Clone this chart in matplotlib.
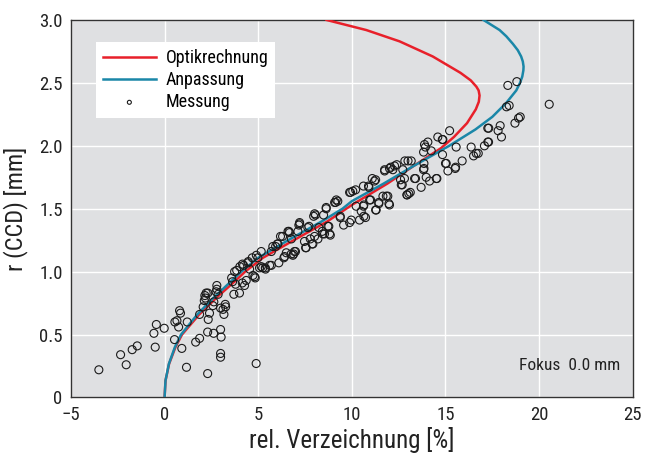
import matplotlib
matplotlib.use("Agg")
import matplotlib.pyplot as plt
from matplotlib import font_manager

# ---- data ----
# Optikrechnung curve: radius r [mm] and rel. distortion [%]
optik_r = [0.0, 0.135, 0.267, 0.40, 0.50, 0.66, 0.79, 0.93, 1.00, 1.11, 1.25, 1.40,
           1.53, 1.70, 1.84, 1.98, 2.07, 2.18, 2.29, 2.35, 2.40, 2.44, 2.47, 2.52,
           2.58, 2.71, 2.83, 2.92, 3.00]
optik_v = [0.0, 0.05, 0.24, 0.58, 0.93, 1.85, 2.75, 3.80, 4.30, 5.25, 6.90, 8.70,
           10.0, 11.9, 13.3, 14.75, 15.45, 16.15, 16.62, 16.78, 16.82, 16.77, 16.65, 16.35,
           15.80, 14.32, 12.55, 10.77, 8.65]

# Anpassung curve
fit_r = [0.0, 0.135, 0.267, 0.40, 0.50, 0.66, 0.79, 0.93, 1.00, 1.11, 1.25, 1.40,
         1.50, 1.56, 1.70, 1.84, 2.00, 2.13, 2.23, 2.34, 2.44, 2.50, 2.55, 2.60,
         2.63, 2.67, 2.71, 2.76, 2.81, 2.87, 2.92, 3.00]
fit_v = [0.0, 0.05, 0.23, 0.55, 0.88, 1.75, 2.60, 3.60, 4.10, 5.00, 6.60, 8.40,
         9.50, 10.0, 11.7, 13.3, 15.2, 16.6, 17.5, 18.24, 18.78, 18.98, 19.10, 19.16,
         19.17, 19.13, 19.04, 18.86, 18.60, 18.25, 17.89, 17.03]

# Messung (measured points)
mess_v = [-3.51, -2.35, -2.05, -1.73, -1.46, -0.57, -0.44, -0.50, -0.02, 0.53, 0.55, 0.66, 0.75,
          0.80, 0.85, 0.92, 1.17, 1.21, 1.66, 1.87, 1.87,
          2.06, 2.12, 2.15, 2.22, 2.31, 2.18, 2.30, 2.30, 2.33, 2.40, 2.58, 2.62, 2.63, 2.79,
          2.79, 2.75, 2.86, 2.99, 2.99, 3.02, 2.99, 2.99, 3.12, 3.24, 3.17, 3.26,
          3.58, 3.63, 3.70, 3.74, 3.79, 3.85, 4.00, 4.02, 4.16, 4.15, 4.22, 4.27, 4.36, 4.45,
          4.47, 4.54, 4.68, 4.72, 4.81, 4.84, 4.89, 4.98, 4.90,
          5.16, 5.16, 5.07, 5.24, 5.38, 5.39, 5.61, 5.70, 5.70, 5.78, 5.93, 6.02, 6.05, 6.10,
          6.19, 6.30, 6.37, 6.41, 6.50, 6.59, 6.64, 6.76, 6.77, 6.85, 6.89, 6.94, 6.99, 6.67,
          7.12, 7.17, 7.21, 7.21, 7.47, 7.53, 7.56, 7.65, 7.71, 7.78, 7.88, 7.92, 7.96, 8.01,
          8.06, 8.01, 8.19, 8.24, 8.42, 8.45, 8.49, 8.54, 8.63, 8.63, 8.72, 8.77, 8.81, 8.85,
          9.08, 9.13, 9.17, 9.25, 9.38, 9.38, 9.56, 9.88, 9.97, 9.88, 9.93, 10.05, 10.20,
          10.23, 10.41, 10.50, 10.62, 10.64, 10.64, 10.73, 10.62, 10.89, 10.91, 10.95, 11.00,
          11.09, 11.21, 11.27, 11.27, 11.30, 11.44, 11.44, 11.66, 11.75, 11.75, 11.84, 11.92,
          11.98, 12.01, 12.01, 12.07, 12.19, 12.28, 12.40, 12.60, 12.64, 12.69, 12.72, 12.81,
          12.83, 12.94, 12.95,
          13.00, 13.04, 13.12, 13.17, 13.35, 13.40, 13.70, 13.83, 13.85, 13.85, 13.83, 13.88,
          13.93, 13.97, 14.06, 14.15, 14.24, 14.51, 14.54, 14.59, 14.83, 14.84, 14.86, 15.00,
          15.04, 15.13,
          15.22, 15.52, 15.54, 15.57, 15.89, 16.37, 16.50, 16.64, 16.75, 17.08, 17.26, 17.30,
          17.26, 17.31, 17.81, 17.92, 17.99, 18.71, 18.99, 18.90, 18.26, 18.40, 18.33, 18.81,
          20.54]
mess_r = [0.22, 0.34, 0.26, 0.38, 0.41, 0.51, 0.58, 0.40, 0.55, 0.46, 0.60, 0.61, 0.56,
          0.69, 0.67, 0.39, 0.24, 0.60, 0.44, 0.47, 0.66,
          0.72, 0.77, 0.81, 0.83, 0.83, 0.79, 0.19, 0.52, 0.62, 0.67, 0.73, 0.51, 0.76, 0.89,
          0.86, 0.84, 0.82, 0.71, 0.54, 0.48, 0.35, 0.32, 0.70, 0.74, 0.66, 0.72,
          0.95, 0.92, 0.82, 1.00, 0.90, 1.01, 0.83, 1.04, 1.06, 0.91, 1.05, 0.89, 0.93, 1.07,
          1.08, 1.02, 1.11, 0.97, 0.96, 0.95, 0.27, 1.11, 1.13,
          1.16, 1.04, 1.03, 1.03, 1.03, 1.02, 1.05, 1.16, 1.05, 1.20, 1.20, 1.22, 1.22, 1.07,
          1.28, 1.28, 1.11, 1.12, 1.15, 1.32, 1.32, 1.14, 1.26, 1.13, 1.14, 1.16, 1.16, 1.31,
          1.32, 1.37, 1.38, 1.39, 1.24, 1.19, 1.19, 1.35, 1.36, 1.26, 1.22, 1.22, 1.44, 1.46,
          1.45, 1.28, 1.26, 1.35, 1.32, 1.30, 1.45, 1.30, 1.50, 1.51, 1.36, 1.36, 1.30, 1.29,
          1.55, 1.55, 1.57, 1.56, 1.43, 1.44, 1.37, 1.39, 1.41, 1.63, 1.63, 1.64, 1.65,
          1.52, 1.41, 1.48, 1.52, 1.53, 1.44, 1.43, 1.68, 1.68, 1.67, 1.57, 1.57,
          1.74, 1.72, 1.73, 1.49, 1.49, 1.54, 1.55, 1.60, 1.80, 1.81, 1.60, 1.60,
          1.54, 1.53, 1.82, 1.83, 1.81, 1.84, 1.85, 1.73, 1.69, 1.69, 1.81, 1.74,
          1.88, 1.61, 1.61,
          1.88, 1.62, 1.63, 1.88, 1.74, 1.74, 1.67, 1.81, 1.82, 1.86, 1.95, 2.01,
          1.99, 1.75, 2.03, 1.72, 1.96, 1.74, 1.74, 2.07, 2.05, 1.93, 2.05, 1.86,
          1.86, 1.80,
          2.12, 1.82, 1.83, 1.99, 1.88, 1.99, 1.92, 1.94, 1.94, 2.00, 2.03, 2.03,
          2.14, 2.14, 2.12, 2.16, 2.07, 2.18, 2.23, 2.22, 2.31, 2.32, 2.48, 2.51,
          2.33]

x_ticks = [-5, 0, 5, 10, 15, 20, 25]
y_ticks = [0, 0.5, 1.0, 1.5, 2.0, 2.5, 3.0]
y_ticklabels = ["0", "0.5", "1.0", "1.5", "2.0", "2.5", "3.0"]

# ---- font: prefer a condensed sans ----
fl = font_manager.fontManager.ttflist
names = {f.name for f in fl}
stretch = "normal"
if "Roboto Condensed" in names:
    fam = "Roboto Condensed"
elif "Open Sans Condensed" in names:
    fam = "Open Sans Condensed"
elif any(f.name == "DejaVu Sans" and str(f.stretch) in ("condensed", "semi-condensed") for f in fl):
    fam = "DejaVu Sans"
    stretch = "condensed"
else:
    fam = "Liberation Sans"
plt.rcParams["font.family"] = [fam, "DejaVu Sans"]
plt.rcParams["font.stretch"] = stretch

fig = plt.figure(figsize=(6.45, 4.54), dpi=100)
ax = fig.add_axes([0.110, 0.1245, 0.871, 0.8315])
ax.set_facecolor("#dfe0e2")

ax.plot(optik_v, optik_r, color="#e8202a", lw=1.8, label="Optikrechnung", zorder=3)
ax.plot(fit_v, fit_r, color="#1a87a8", lw=1.8, label="Anpassung", zorder=3)
ax.scatter(mess_v, mess_r, s=33, facecolors="none", edgecolors="#1a1a1a",
           linewidths=0.8, label="Messung", zorder=4)

ax.set_xlim(-5, 25)
ax.set_ylim(0, 3)
ax.set_xticks(x_ticks)
ax.set_yticks(y_ticks)
ax.set_yticklabels(y_ticklabels)
ax.grid(True, color="white", lw=1.0)
ax.set_axisbelow(True)
ax.tick_params(length=0, labelsize=13.5, pad=6, colors="#222222")
for s in ax.spines.values():
    s.set_color("#333333")
    s.set_linewidth(1.0)

ax.set_xlabel("rel. Verzeichnung [%]", fontsize=18, color="#222222", labelpad=2)
ax.set_ylabel("r (CCD) [mm]", fontsize=17.5, color="#222222", labelpad=8)

leg = ax.legend(loc="upper left", bbox_to_anchor=(0.0445, 0.942), borderaxespad=0,
                frameon=True, fancybox=False, framealpha=1.0, edgecolor="white",
                fontsize=13, handlelength=2.9, handletextpad=0.55, borderpad=0.4,
                labelspacing=0.22, markerscale=0.5)
leg.get_frame().set_linewidth(0)

ax.text(0.977, 0.085, "Fokus  0.0 mm", transform=ax.transAxes, ha="right",
        va="center", fontsize=12.5, color="#222222")

fig.savefig("out.png", dpi=100, facecolor="white")
